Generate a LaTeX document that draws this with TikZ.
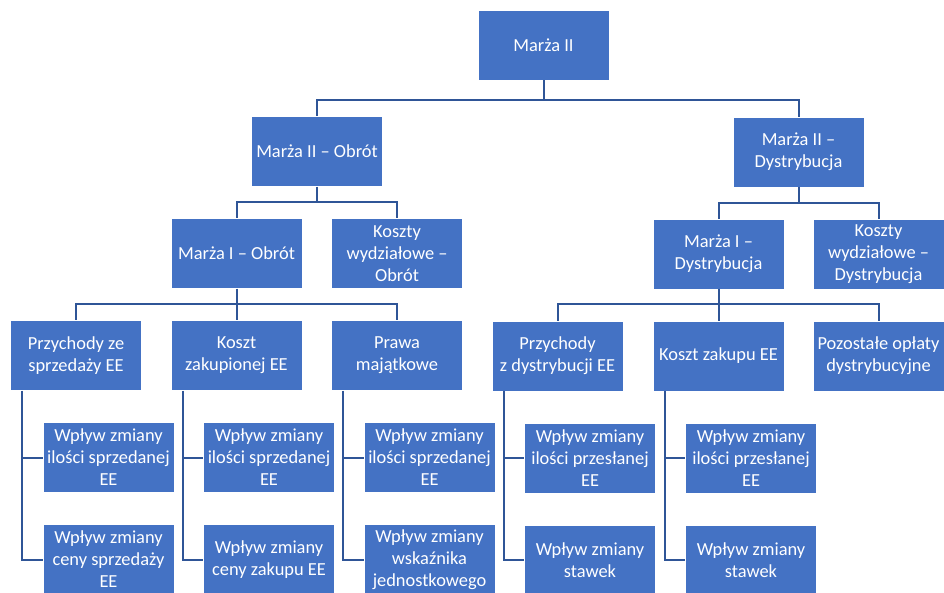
\documentclass[tikz,border=0pt]{standalone}
\usepackage{fontspec}
\setmainfont{Carlito}
\definecolor{boxblue}{HTML}{4472C4}
\definecolor{linkblue}{HTML}{2F5597}
\tikzset{
  box/.style={rectangle, fill=boxblue, draw=white, line width=0.8pt,
    minimum width=131pt, minimum height=70pt, inner sep=0pt,
    align=center, text=white, font=\fontsize{18.4}{22}\selectfont},
  link/.style={draw=linkblue, line width=2pt}
}
\begin{document}
\begin{tikzpicture}[x=1pt, y=-1pt]
\useasboundingbox (0,0) rectangle (944,592);
\begin{scope}
\clip (0,0) rectangle (944,592);
% top levels
\node[box] (top) at (543.5,45) {Marża II};
\node[box] (m2o) at (317,151.5) {Marża II – Obrót};
\node[box] (m2d) at (798.5,152) {Marża II –\\Dystrybucja};
\node[box] (m1o) at (236.5,253.5) {Marża I – Obrót};
\node[box] (kwo) at (397,253.5) {Koszty\\wydziałowe –\\Obrót};
\node[box] (m1d) at (718.5,254) {Marża I –\\Dystrybucja};
\node[box] (kwd) at (878.5,254) {Koszty\\wydziałowe –\\Dystrybucja};
% fourth level
\node[box] (psp) at (76,355.5) {Przychody ze\\sprzedaży EE};
\node[box] (kze) at (236.5,355.5) {Koszt\\zakupionej EE};
\node[box] (pma) at (397,355.5) {Prawa\\majątkowe};
\node[box] (pdy) at (557.5,356) {Przychody\\z dystrybucji EE};
\node[box] (kzu) at (718.5,356) {Koszt zakupu EE};
\node[box] (pod) at (878.5,356) {Pozostałe opłaty\\dystrybucyjne};
% fifth level
\node[box] (a1) at (108.5,457.5) {Wpływ zmiany\\ilości sprzedanej\\EE};
\node[box] (a2) at (108.5,559.5) {Wpływ zmiany\\ceny sprzedaży\\EE};
\node[box] (b1) at (269,457.5) {Wpływ zmiany\\ilości sprzedanej\\EE};
\node[box] (b2) at (269,559.5) {Wpływ zmiany\\ceny zakupu EE};
\node[box] (c1) at (429.5,457.5) {Wpływ zmiany\\ilości sprzedanej\\EE};
\node[box] (c2) at (429.5,559.5) {Wpływ zmiany\\wskaźnika\\jednostkowego};
\node[box] (d1) at (590,458) {Wpływ zmiany\\ilości przesłanej\\EE};
\node[box] (d2) at (590,560) {Wpływ zmiany\\stawek};
\node[box] (e1) at (751,458) {Wpływ zmiany\\ilości przesłanej\\EE};
\node[box] (e2) at (751,560) {Wpływ zmiany\\stawek};
% bus coordinates
\coordinate (y1) at (0,100);
\coordinate (y2) at (0,202);
\coordinate (y3) at (0,203);
\coordinate (y4) at (0,304);
% tree connectors
\foreach \p/\c/\y in {top/m2o/y1, top/m2d/y1, m2o/m1o/y2, m2o/kwo/y2,
    m2d/m1d/y3, m2d/kwd/y3, m1o/psp/y4, m1o/kze/y4, m1o/pma/y4,
    m1d/pdy/y4, m1d/kzu/y4, m1d/pod/y4}
  \draw[link] (\p.south) -- (\p.south |- \y) -| (\c.north);
% side connectors
\foreach \p/\c/\d in {psp/a1/a2, kze/b1/b2, pma/c1/c2, pdy/d1/d2, kzu/e1/e2} {
  \coordinate (\p-s) at ([xshift=12pt]\p.south west);
  \draw[link] (\p-s) |- (\c.west);
  \draw[link] (\p-s) |- (\d.west);
}
\end{scope}
\end{tikzpicture}
\end{document}
